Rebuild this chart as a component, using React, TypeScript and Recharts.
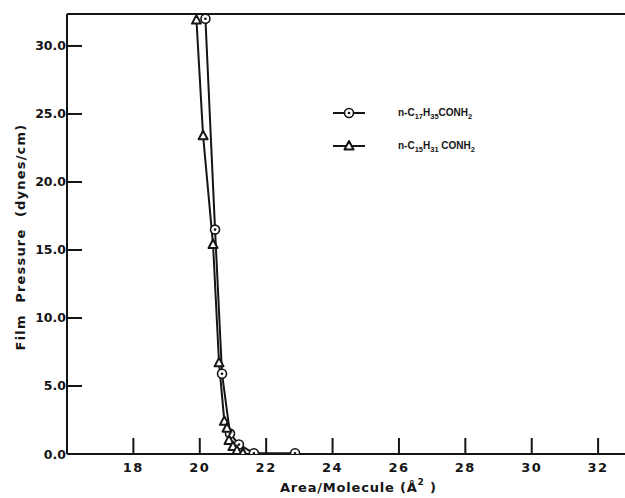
import React from "react";
import { LineChart, Line, XAxis, YAxis, ReferenceLine, Legend } from "recharts";

const xTicks = [18, 20, 22, 24, 26, 28, 30, 32];
const yTicks = [0, 5, 10, 15, 20, 25, 30];
const xDomain = [16, 32.81];
const yDomain = [0, 32.35];

const seriesNames = ["n-C17H35CONH2", "n-C15H31 CONH2"];

const c17Area = [20.17, 20.46, 20.67, 20.91, 21.18, 21.63, 22.87];
const c17Pressure = [32.0, 16.5, 5.9, 1.5, 0.7, 0.05, 0.05];

const c15Area = [19.9, 20.1, 20.4, 20.58, 20.74, 20.82, 20.88, 21.0, 21.12, 21.3];
const c15Pressure = [31.9, 23.4, 15.4, 6.7, 2.4, 1.9, 1.0, 0.55, 0.25, 0.05];

const c17Data = c17Area.map((x, i) => ({ x, y: c17Pressure[i] }));
const c15Data = c15Area.map((x, i) => ({ x, y: c15Pressure[i] }));

const INK = "#151515";
const FONT = "'DejaVu Sans', sans-serif";
const LEGEND_FONT = "'Liberation Sans', Arial, sans-serif";

const CircleDot = (props: any) => {
  const { cx, cy } = props;
  if (cx == null || cy == null) return null;
  return (
    <g>
      <circle cx={cx} cy={cy} r={4.5} fill="#fff" stroke={INK} strokeWidth={1.6} />
      <circle cx={cx} cy={cy} r={1.3} fill={INK} />
    </g>
  );
};

const TriangleDot = (props: any) => {
  const { cx, cy } = props;
  if (cx == null || cy == null) return null;
  return (
    <path
      d={`M${cx},${cy - 5} L${cx - 4.5},${cy + 3.5} L${cx + 4.5},${cy + 3.5} Z`}
      fill="#fff"
      stroke={INK}
      strokeWidth={2}
      strokeLinejoin="round"
    />
  );
};

const YTick = (props: any) => {
  const { x, y, payload } = props;
  const v = Number(payload.value);
  return (
    <g>
      {v !== 0 && <line x1={x} x2={x + 15} y1={y} y2={y} stroke={INK} strokeWidth={2} />}
      <text
        x={x - 1}
        y={y}
        textAnchor="end"
        dominantBaseline="central"
        fontFamily={FONT}
        fontWeight="bold"
        fontSize={12.5}
        fill={INK}
      >
        {v.toFixed(1)}
      </text>
    </g>
  );
};

const XTick = (props: any) => {
  const { x, y, payload } = props;
  return (
    <g>
      <line x1={x} x2={x} y1={y} y2={y - 16} stroke={INK} strokeWidth={2} />
      <text
        x={x}
        y={y + 13}
        textAnchor="middle"
        dominantBaseline="central"
        fontFamily={FONT}
        fontWeight="bold"
        fontSize={13}
        letterSpacing={1.5}
        fill={INK}
      >
        {payload.value}
      </text>
    </g>
  );
};

const renderName = (name: string) => {
  const parts = name.split(/(\d+)/).filter((p) => p.length > 0);
  let shifted = false;
  return parts.map((p, i) => {
    const isSub = /^\d+$/.test(p);
    let dy = 0;
    if (isSub && !shifted) {
      dy = 3;
      shifted = true;
    } else if (!isSub && shifted) {
      dy = -3;
      shifted = false;
    }
    return (
      <tspan key={i} dy={dy} fontSize={isSub ? 7.5 : 10}>
        {p}
      </tspan>
    );
  });
};

const LegendContent = () => (
  <svg width={180} height={70}>
    {seriesNames.map((name, i) => {
      const y = 18 + i * 33;
      return (
        <g key={i}>
          <line x1={8} x2={40} y1={y} y2={y} stroke={INK} strokeWidth={2} />
          {i === 0 ? <CircleDot cx={24} cy={y} /> : <TriangleDot cx={24} cy={y} />}
          <text x={73} y={y + 3} fontFamily={LEGEND_FONT} fontWeight="bold" fill={INK} xmlSpace="preserve">
            {renderName(name)}
          </text>
        </g>
      );
    })}
  </svg>
);

const XLabel = (props: any) => {
  const { viewBox } = props;
  const x0 = viewBox.x + 213;
  return (
    <text x={x0} y={492} fontFamily={FONT} fontWeight="bold" fontSize={13} fill={INK} letterSpacing={0.8}>
      Area/Molecule (Å
      <tspan dy={-7} fontSize={9}>2</tspan>
      <tspan dy={7}>{"\u00a0)"}</tspan>
    </text>
  );
};

const YLabel = () => (
  <text
    x={20}
    y={237}
    transform="rotate(-90 20 237)"
    textAnchor="middle"
    dominantBaseline="central"
    fontFamily={FONT}
    fontWeight="bold"
    fontSize={13}
    letterSpacing={1.2}
    fill={INK}
  >
    {"Film\u00a0 Pressure\u00a0 (dynes/cm)"}
  </text>
);

export default function App() {
  return (
    <div style={{ position: "absolute", left: 0, top: 0, width: 625, height: 498, background: "#fff" }}>
      <LineChart width={625} height={498} margin={{ top: 14, right: 0, bottom: 14, left: 37 }}>
        <XAxis
          type="number"
          dataKey="x"
          domain={xDomain}
          ticks={xTicks}
          allowDataOverflow
          height={30}
          tickSize={0}
          tickMargin={0}
          tickLine={false}
          axisLine={{ stroke: INK, strokeWidth: 2 }}
          tick={<XTick />}
          label={<XLabel />}
        />
        <YAxis
          type="number"
          dataKey="y"
          domain={yDomain}
          ticks={yTicks}
          allowDataOverflow
          width={30}
          tickSize={0}
          tickMargin={0}
          tickLine={false}
          axisLine={{ stroke: INK, strokeWidth: 2 }}
          tick={<YTick />}
          label={<YLabel />}
        />
        <ReferenceLine y={yDomain[1]} stroke={INK} strokeWidth={2} ifOverflow="extendDomain" />
        <Legend
          layout="vertical"
          align="center"
          verticalAlign="middle"
          content={<LegendContent />}
          wrapperStyle={{ position: "absolute", left: 325, top: 95, width: 180, height: 70 }}
        />
        <Line
          data={c17Data}
          dataKey="y"
          name={seriesNames[0]}
          type="linear"
          stroke={INK}
          strokeWidth={2}
          dot={<CircleDot />}
          isAnimationActive={false}
        />
        <Line
          data={c15Data}
          dataKey="y"
          name={seriesNames[1]}
          type="linear"
          stroke={INK}
          strokeWidth={2}
          dot={<TriangleDot />}
          isAnimationActive={false}
        />
      </LineChart>
    </div>
  );
}
